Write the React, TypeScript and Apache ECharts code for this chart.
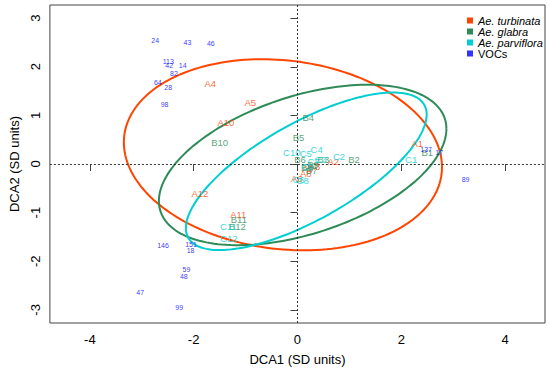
import React, { useEffect, useRef } from "react";
import * as echarts from "echarts";

// ---- Data ----
const xTicks = [-4, -2, 0, 2, 4];
const yTicks = [-3, -2, -1, 0, 1, 2, 3];

const groupNames = ["Ae. turbinata", "Ae. glabra", "Ae. parviflora", "VOCs"];
const groupColors = ["#FF4500", "#2E8B57", "#00CED1", "#0000FF"];

// Ae. turbinata samples
const turbLabels = ["A1", "A2", "A3", "A4", "A5", "A6", "A7", "A8", "A9", "A10", "A11", "A12"];
const turbX = [2.31, 0.69, 0.33, -1.68, -0.91, -0.01, 0.3, 0.16, 0.2, -1.38, -1.14, -1.88];
const turbY = [0.42, 0.06, -0.06, 1.65, 1.27, -0.29, -0.04, -0.2, -0.1, 0.85, -1.03, -0.61];

// Ae. glabra samples
const glabLabels = ["B1", "B2", "B3", "B4", "B5", "B6", "B7", "B8", "B9", "B10", "B11", "B12"];
const glabX = [2.5, 1.09, 0.5, 0.21, 0.02, 0.05, 0.27, 0.18, 0.3, -1.5, -1.13, -1.16];
const glabY = [0.24, 0.09, 0.1, 0.96, 0.54, 0.1, -0.14, -0.07, -0.02, 0.45, -1.14, -1.28];

// Ae. parviflora samples
const parvLabels = ["C1", "C2", "C3", "C4", "C5", "C6", "C7", "C8", "C9", "C10", "C11", "C12"];
const parvX = [2.19, 0.8, 0.45, 0.37, 0.16, 0.02, 0.31, 0.1, 0.2, -0.11, -1.33, -1.32];
const parvY = [0.1, 0.16, 0.1, 0.29, 0.22, -0.32, 0.05, -0.34, -0.05, 0.24, -1.29, -1.53];

// VOCs
const vocLabels = ["24", "43", "46", "113", "42", "14", "82", "64", "28", "98", "146", "151", "18", "59", "48", "47", "99", "89", "137", "17"];
const vocX = [-2.74, -2.12, -1.67, -2.49, -2.47, -2.21, -2.38, -2.69, -2.49, -2.56, -2.59, -2.05, -2.06, -2.14, -2.19, -3.03, -2.28, 3.24, 2.48, 2.73];
const vocY = [2.54, 2.5, 2.47, 2.1, 2.03, 2.03, 1.87, 1.67, 1.57, 1.22, -1.67, -1.65, -1.78, -2.16, -2.32, -2.65, -2.96, -0.31, 0.29, 0.24];

// Ellipses: [centerX, centerY, halfWidthX, halfHeightY, correlation]
const turbEllipse = [-0.28, 0.19, 3.065, 1.965, -0.13];
const glabEllipse = [0.1, -0.02, 2.77, 1.65, 0.45];
const parvEllipse = [0.17, -0.15, 2.32, 1.62, 0.72];

const FONT = "'Liberation Sans', Arial, sans-serif";

function labelSeries(name: string, color: string, labels: string[], xs: number[], ys: number[], size: number) {
  return {
    name,
    type: "scatter",
    symbol: "circle",
    symbolSize: 1,
    itemStyle: { color: "rgba(0,0,0,0)" },
    data: labels.map((l, i) => [xs[i], ys[i], l]),
    label: {
      show: true,
      position: "inside",
      formatter: (p: any) => p.data[2],
      color,
      fontSize: size,
      fontFamily: FONT,
    },
    emphasis: { disabled: true },
    z: 5,
  };
}

function ellipseSeries(name: string, color: string, e: number[]) {
  return {
    name,
    type: "custom",
    data: [e],
    encode: { x: 0, y: 1 },
    silent: true,
    z: 3,
    renderItem: (params: any, api: any) => {
      const cx = api.value(0);
      const cy = api.value(1);
      const sx = api.value(2);
      const sy = api.value(3);
      const r = api.value(4);
      const q = Math.sqrt(1 - r * r);
      const pts: number[][] = [];
      const N = 180;
      for (let i = 0; i <= N; i++) {
        const t = (2 * Math.PI * i) / N;
        const x = cx + sx * Math.cos(t);
        const y = cy + sy * (r * Math.cos(t) + q * Math.sin(t));
        pts.push(api.coord([x, y]));
      }
      return {
        type: "polyline",
        shape: { points: pts },
        style: { fill: "none", stroke: color, lineWidth: 2 },
      };
    },
  };
}

export default function App() {
  const ref = useRef<HTMLDivElement>(null);
  useEffect(() => {
    document.body.style.margin = "0";
    if (!ref.current) return;
    const chart = echarts.init(ref.current, null, { renderer: "svg" });
    const option: any = {
      animation: false,
      backgroundColor: "#fff",
      textStyle: { fontFamily: FONT },
      grid: {
        left: 46,
        right: 5,
        top: 5,
        bottom: 46,
        show: true,
        borderColor: "#444",
        borderWidth: 1,
      },
      legend: {
        orient: "vertical",
        left: 462,
        top: 10,
        itemWidth: 6,
        itemHeight: 6,
        itemGap: 0,
        icon: "rect",
        data: groupNames.map((n, i) => ({ name: n, itemStyle: { color: groupColors[i] } })),
        formatter: (n: string) => (n === "VOCs" ? n : `{i|${n}}`),
        textStyle: {
          fontSize: 11,
          color: "#000",
          fontFamily: FONT,
          rich: { i: { fontStyle: "italic", fontSize: 11, fontFamily: FONT, color: "#000" } },
        },
        selectedMode: false,
      },
      xAxis: {
        type: "value",
        min: -4.77,
        max: 4.77,
        splitLine: { show: false },
        axisLine: { show: false },
        axisTick: {
          show: true,
          length: 7,
          customValues: xTicks,
          lineStyle: { color: "#444" },
        },
        axisLabel: {
          customValues: xTicks,
          fontSize: 13,
          color: "#000",
          margin: 10,
          fontFamily: FONT,
        },
        name: "DCA1 (SD units)",
        nameLocation: "middle",
        nameGap: 30,
        nameTextStyle: { fontSize: 13, color: "#000", fontFamily: FONT },
      },
      yAxis: {
        type: "value",
        min: -3.27,
        max: 3.27,
        splitLine: { show: false },
        axisLine: { show: false },
        axisTick: {
          show: true,
          length: 7,
          customValues: yTicks,
          lineStyle: { color: "#444" },
        },
        axisLabel: {
          customValues: yTicks,
          rotate: 90,
          fontSize: 13,
          color: "#000",
          margin: 8,
          fontFamily: FONT,
        },
        name: "DCA2 (SD units)",
        nameLocation: "middle",
        nameGap: 12,
        nameTextStyle: { fontSize: 13, color: "#000", fontFamily: FONT },
      },
      series: [
        {
          type: "line",
          data: [],
          silent: true,
          markLine: {
            silent: true,
            symbol: "none",
            label: { show: false },
            lineStyle: { type: [2, 2], color: "#333", width: 1 },
            data: [{ xAxis: 0 }, { yAxis: 0 }],
          },
        },
        ellipseSeries(groupNames[0], groupColors[0], turbEllipse),
        ellipseSeries(groupNames[1], groupColors[1], glabEllipse),
        ellipseSeries(groupNames[2], groupColors[2], parvEllipse),
        labelSeries(groupNames[0], groupColors[0], turbLabels, turbX, turbY, 9.5),
        labelSeries(groupNames[1], groupColors[1], glabLabels, glabX, glabY, 9.5),
        labelSeries(groupNames[2], groupColors[2], parvLabels, parvX, parvY, 9.5),
        labelSeries(groupNames[3], groupColors[3], vocLabels, vocX, vocY, 7),
      ],
    };
    chart.setOption(option);
    return () => chart.dispose();
  }, []);
  return <div ref={ref} style={{ width: 550, height: 371 }} />;
}
